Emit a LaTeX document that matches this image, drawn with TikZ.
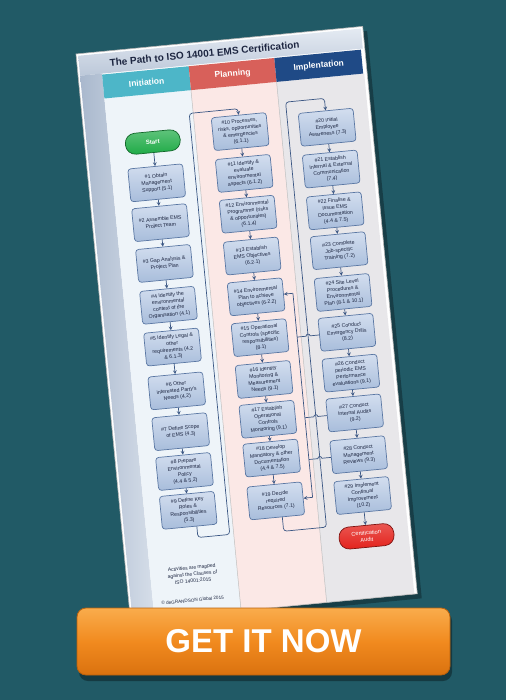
\documentclass[tikz,border=0pt]{standalone}
\usepackage{fontspec}
\setmainfont{Liberation Sans}
\usetikzlibrary{arrows}
\definecolor{bgteal}{HTML}{215A66}
\definecolor{titlebar}{HTML}{BCC8D9}
\definecolor{titlebarLight}{HTML}{E4EAF2}
\definecolor{spine}{HTML}{A9B8CD}
\definecolor{spineLight}{HTML}{D6DEE9}
\definecolor{initcyan}{HTML}{4DB6C8}
\definecolor{planred}{HTML}{D8605A}
\definecolor{implnavy}{HTML}{1F4A86}
\definecolor{initbody}{HTML}{EEF4F9}
\definecolor{planbody}{HTML}{FBE8E6}
\definecolor{implbody}{HTML}{E8E7EA}
\definecolor{boxtop}{HTML}{D3DEEF}
\definecolor{boxbot}{HTML}{A8BDDB}
\definecolor{boxedge}{HTML}{5A77A3}
\definecolor{flowline}{HTML}{3A5683}
\definecolor{inktext}{HTML}{1C2540}
\definecolor{startgreen}{HTML}{1DAA45}
\definecolor{auditred}{HTML}{E3211B}
\definecolor{btnorange}{HTML}{F18A1F}
\definecolor{btnlight}{HTML}{F9AC4C}
\definecolor{btndark}{HTML}{DA720F}

\begin{document}
\begin{tikzpicture}[
    x=1pt, y=-1pt,
    >=stealth,
    stepbox/.style={
      rectangle, rounded corners=3pt,
      minimum width=55pt, minimum height=33pt,
      top color=boxtop, bottom color=boxbot, draw=boxedge, line width=0.7pt,
      text=inktext, font=\fontsize{5.2}{6.6}\selectfont,
      align=center, inner sep=2pt,
    },
    startpill/.style={
      rectangle, rounded corners=10pt,
      minimum width=55pt, minimum height=21pt,
      top color=startgreen!70!white, bottom color=startgreen, draw=startgreen!60!black, line width=0.7pt,
      text=white, font=\fontsize{6}{7}\selectfont\bfseries,
      align=center, inner sep=2pt,
    },
    auditpill/.style={
      rectangle, rounded corners=10pt,
      minimum width=55pt, minimum height=22pt,
      top color=auditred!75!white, bottom color=auditred, draw=auditred!55!black, line width=0.7pt,
      text=white, font=\fontsize{5.6}{6.8}\selectfont,
      align=center, inner sep=2pt,
    },
    colhead/.style={
      rectangle, minimum height=24pt, outer sep=0pt, inner sep=0pt,
      text=white, font=\fontsize{8.5}{10}\selectfont\bfseries,
    },
    pagetitle/.style={font=\fontsize{10}{12}\selectfont\bfseries, text=inktext},
    footnote/.style={font=\fontsize{5}{6.6}\selectfont, text=inktext, align=center},
    getbtn/.style={
      rectangle, rounded corners=9pt,
      minimum width=373pt, minimum height=67pt,
      top color=btnlight, bottom color=btndark, middle color=btnorange,
      draw=btndark!85!black, line width=0.8pt,
      text=white, font=\fontsize{33}{36}\selectfont\bfseries,
    },
    arr/.style={->, draw=flowline, line width=0.7pt},
    line/.style={draw=flowline, line width=0.7pt},
    loopline/.style={->, draw=flowline, line width=0.7pt, rounded corners=3pt},
    colrule/.style={draw=black!25, line width=0.5pt},
  ]

  \useasboundingbox (0,0) rectangle (506,700);
  \fill[bgteal] (0,0) rectangle (506,700);

  % ---- Tilted chart page ----
  \begin{scope}[shift={(76,54)}, rotate=5.5, transform shape]

  \fill[black, opacity=0.3] (3,5) rectangle (292,575);
  \fill[white] (0,0) rectangle (288,570);
  \shade[top color=titlebarLight, bottom color=titlebar] (2,2) rectangle (286,22);
  \shade[left color=spine, right color=spineLight] (2,22) rectangle (24,570);
  \fill[initbody] (24,47) rectangle (111,570);
  \fill[planbody] (111,47) rectangle (197,570);
  \fill[implbody] (197,47) rectangle (285,570);
  \draw[colrule] (111,47) -- (111,570);
  \draw[colrule] (197,47) -- (197,570);
  \draw[black!30, line width=0.6pt] (0,0) rectangle (288,570);

  \node[pagetitle] (title) at (128,12) {The Path to ISO 14001 EMS Certification};

  % ---- Column headers ----
  \node[colhead, fill=initcyan, minimum width=87pt] (inithead) at (67.5,35) {Initiation};
  \node[colhead, fill=planred,  minimum width=86pt] (planhead) at (154,35)  {Planning};
  \node[colhead, fill=implnavy, minimum width=87pt] (implhead) at (240.5,35) {Implentation};

  % ---- Initiation ----
  \node[startpill] (start) at (68,95) {Start};
  \node[stepbox] (support) at (68,136) {\#1 Obtain\\Management\\Support (5.1)};
  \node[stepbox] (team)    at (68,176) {\#2 Assemble EMS\\Project Team};
  \node[stepbox] (gap)     at (68,217) {\#3 Gap Analysis \&\\Project Plan};
  \node[stepbox] (context) at (68,259) {\#4 Identify the\\environmental\\context of the\\Organisation (4.1)};
  \node[stepbox] (legal)   at (68,301) {\#5 Identify Legal \&\\other\\requirements (4.2\\\& 6.1.3)};
  \node[stepbox] (parties) at (68,345) {\#6 Other\\interested Party's\\Needs (4.2)};
  \node[stepbox] (scope)   at (68,386) {\#7 Define Scope\\of EMS (4.3)};
  \node[stepbox] (policy)  at (68,426) {\#8 Prepare\\Environmental\\Policy\\(4.4 \& 5.2)};
  \node[stepbox] (roles)   at (68,465) {\#9 Define Key\\Roles \&\\Responsibilities\\(5.3)};

  \draw[arr] (start) -- (support);
  \draw[arr] (support) -- (team);
  \draw[arr] (team) -- (gap);
  \draw[arr] (gap) -- (context);
  \draw[arr] (context) -- (legal);
  \draw[arr] (legal) -- (parties);
  \draw[arr] (parties) -- (scope);
  \draw[arr] (scope) -- (policy);
  \draw[arr] (policy) -- (roles);

  \node[footnote] (mapped) at (66,529) {Activities are mapped\\against the Clauses of\\ISO 14001:2015};
  \node[footnote, anchor=west, font=\fontsize{4.6}{5.5}\selectfont] (copy) at (29,555) {\textcopyright\ deGRANDSON Global 2015};

  % ---- Planning ----
  \node[stepbox] (risks)      at (156,93)  {\#10 Processes,\\risks, opportunities\\\& emergencies\\(6.1.1)};
  \node[stepbox] (aspects)    at (156,135) {\#11 Identify \&\\evaluate\\environmental\\aspects (6.1.2)};
  \node[stepbox] (programme)  at (156,176) {\#12 Environmental\\Programme (risks\\\& opportunities)\\(6.1.4)};
  \node[stepbox] (objectives) at (156,218) {\#13 Establish\\EMS Objectives\\(6.2.1)};
  \node[stepbox] (envplan)    at (156,259) {\#14 Environmental\\Plan to achieve\\objectives (6.2.2)};
  \node[stepbox] (opctrl)     at (156,300) {\#15 Operational\\Controls (specific\\responsibilities)\\(8.1)};
  \node[stepbox] (monitor)    at (156,342) {\#16 Identify\\Monitoring \&\\Measurement\\Needs (9.1)};
  \node[stepbox] (opmon)      at (156,382) {\#17 Establish\\Operational\\Controls\\Monitoring (9.1)};
  \node[stepbox] (docs)       at (156,421) {\#18 Develop\\Mandatory \& other\\Documentation\\(4.4 \& 7.5)};
  \node[stepbox] (resources)  at (156,464) {\#19 Decide\\required\\Resources (7.1)};

  \draw[arr] (risks) -- (aspects);
  \draw[arr] (aspects) -- (programme);
  \draw[arr] (programme) -- (objectives);
  \draw[arr] (objectives) -- (envplan);
  \draw[arr] (envplan) -- (opctrl);
  \draw[arr] (opctrl) -- (monitor);
  \draw[arr] (monitor) -- (opmon);
  \draw[arr] (opmon) -- (docs);
  \draw[arr] (docs) -- (resources);

  % ---- Implentation ----
  \node[stepbox] (aware)     at (243,97)  {\#20 Initial\\Employee\\Awareness (7.3)};
  \node[stepbox] (comms)     at (243,139) {\#21 Establish\\Internal \& External\\Communication\\(7.4)};
  \node[stepbox] (issue)     at (243,181) {\#22 Finalise \&\\Issue EMS\\Documentation\\(4.4 \& 7.5)};
  \node[stepbox] (training)  at (243,221) {\#23 Complete\\Job-specific\\Training (7.2)};
  \node[stepbox] (procs)     at (243,263) {\#24 Site Level\\Procedures \&\\Environmental\\Plan (8.1 \& 10.1)};
  \node[stepbox] (drills)    at (243,303) {\#25 Conduct\\Emergency Drills\\(8.2)};
  \node[stepbox] (perf)      at (243,344) {\#26 Conduct\\periodic EMS\\Performance\\evaluations (9.1)};
  \node[stepbox] (audits)    at (243,384) {\#27 Conduct\\Internal Audits\\(9.2)};
  \node[stepbox] (review)    at (243,426) {\#28 Conduct\\Management\\Reviews (9.3)};
  \node[stepbox] (improve)   at (243,467) {\#29 Implement\\Continual\\Improvement\\(10.2)};
  \node[auditpill] (certaudit) at (243,508) {Certification\\Audit};

  \draw[arr] (aware) -- (comms);
  \draw[arr] (comms) -- (issue);
  \draw[arr] (issue) -- (training);
  \draw[arr] (training) -- (procs);
  \draw[arr] (procs) -- (drills);
  \draw[arr] (drills) -- (perf);
  \draw[arr] (perf) -- (audits);
  \draw[arr] (audits) -- (review);
  \draw[arr] (review) -- (improve);
  \draw[arr] (improve) -- (certaudit);

  % ---- Column hand-overs ----
  \coordinate (hand1a) at (75,493);
  \coordinate (hand1b) at (107,493);
  \coordinate (hand1c) at (107,70);
  \coordinate (hand1d) at (156,70);
  \draw[loopline] (roles.south) ++(7,0) -- (hand1a) -- (hand1b) -- (hand1c) -- (hand1d) -- (risks.north);

  \coordinate (hand2a) at (161,495);
  \coordinate (hand2b) at (204,495);
  \coordinate (hand2c) at (204,68);
  \coordinate (hand2d) at (243,68);
  \draw[loopline] (resources.south) ++(5,0) -- (hand2a) -- (hand2b) -- (hand2c) -- (hand2d) -- (aware.north);

  % ---- Feedback into #14 and #19 ----
  \coordinate (fbtop) at (193,259);
  \coordinate (fbbot) at (193,464);
  \draw[line] (fbtop) -- (fbbot);
  \draw[arr] (fbtop) -- (envplan.east);
  \draw[arr] (fbbot) -- (resources.east);

  \coordinate (hopdrills) at (206,303);
  \coordinate (hopaudits) at (206,384);
  \coordinate (hopreview) at (206,426);
  \coordinate (fbdrills) at (193,303);
  \coordinate (fbaudits) at (193,384);
  \coordinate (fbreview) at (193,426);
  \draw[line] (drills.west) -- (hopdrills) arc[start angle=0, end angle=-180, radius=2] -- (fbdrills);
  \draw[line] (audits.west) -- (hopaudits) arc[start angle=0, end angle=-180, radius=2] -- (fbaudits);
  \draw[line] (review.west) -- (hopreview) arc[start angle=0, end angle=-180, radius=2] -- (fbreview);

  \end{scope}

  % ---- Call to action ----
  \fill[black, opacity=0.35, rounded corners=9pt] (79,612) rectangle (452,681);
  \node[getbtn] (getit) at (263.5,641.5) {GET IT NOW};

\end{tikzpicture}
\end{document}
